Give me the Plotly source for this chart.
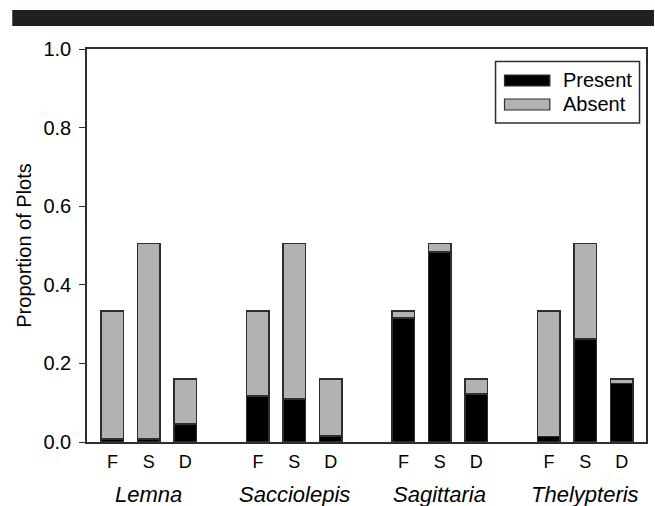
import plotly.graph_objects as go

# Species groups and the three stages within each group
species = ["Lemna", "Sacciolepis", "Sagittaria", "Thelypteris"]
stages = ["F", "S", "D"]

# Proportion of plots where the species was present / absent, per species & stage
present = [0.008, 0.008, 0.046,
           0.117, 0.110, 0.015,
           0.315, 0.483, 0.122,
           0.014, 0.262, 0.149]
absent = [0.325, 0.497, 0.114,
          0.216, 0.395, 0.145,
          0.018, 0.022, 0.038,
          0.319, 0.243, 0.011]

y_ticks = [0.0, 0.2, 0.4, 0.6, 0.8, 1.0]

# Bar positions: each species block takes 3 slots plus one empty slot
positions = [g * (len(stages) + 1) + s for g in range(len(species)) for s in range(len(stages))]
tick_text = [stages[s] for g in range(len(species)) for s in range(len(stages))]
group_centers = [g * (len(stages) + 1) + (len(stages) - 1) / 2 for g in range(len(species))]

W, H = 655, 506
ML, MR, MT, MB = 87, 7, 49, 64
PW, PH = W - ML - MR, H - MT - MB


def px_x(px):
    return (px - ML) / PW


def px_y(py):
    return (H - MB - py) / PH


FONT = "Liberation Sans, Arial, Helvetica, sans-serif"
EDGE = "#2e2e2e"
GRAY = "#b2b2b2"

fig = go.Figure()
fig.add_trace(go.Bar(x=positions, y=present, name="Present", width=0.62,
                     marker=dict(color="#000000", line=dict(color=EDGE, width=1.5)),
                     showlegend=False))
fig.add_trace(go.Bar(x=positions, y=absent, name="Absent", width=0.62,
                     marker=dict(color=GRAY, line=dict(color=EDGE, width=1.5)),
                     showlegend=False))

fig.update_layout(
    width=W, height=H,
    margin=dict(l=ML, r=MR, t=MT, b=MB),
    barmode="stack",
    paper_bgcolor="white", plot_bgcolor="white",
    font=dict(family=FONT, color="black"),
    xaxis=dict(range=[-0.7, 14.67], tickmode="array", tickvals=positions, ticktext=tick_text,
               ticks="", showgrid=False, zeroline=False, showline=True, mirror=True,
               linecolor=EDGE, linewidth=1.5, tickfont=dict(size=18),
               ticklabelstandoff=3),
    yaxis=dict(range=[0, 1], tickmode="array", tickvals=y_ticks,
               ticktext=[f"{v:.1f}" for v in y_ticks],
               ticks="outside", ticklen=6, tickwidth=1.2, tickcolor=EDGE,
               showgrid=False, zeroline=False, showline=True, mirror=True,
               linecolor=EDGE, linewidth=1.5, tickfont=dict(size=20),
               ticklabelstandoff=4),
)

shapes = []
annotations = []

# Dark header band
shapes.append(dict(type="rect", xref="paper", yref="paper",
                   x0=px_x(12), x1=px_x(656), y0=px_y(26), y1=px_y(10),
                   fillcolor="#231f20", line=dict(width=0), layer="above"))

# Legend box with wide swatches
shapes.append(dict(type="rect", xref="paper", yref="paper",
                   x0=px_x(497), x1=px_x(641.5), y0=px_y(123), y1=px_y(61.5),
                   fillcolor="white", line=dict(color=EDGE, width=1.5), layer="above"))
legend_rows = [("Present", "#000000", 80.5), ("Absent", GRAY, 104.5)]
for label, color, cy in legend_rows:
    shapes.append(dict(type="rect", xref="paper", yref="paper",
                       x0=px_x(506), x1=px_x(551.5), y0=px_y(cy + 5.5), y1=px_y(cy - 5.5),
                       fillcolor=color, line=dict(color=EDGE, width=1.2), layer="above"))
    annotations.append(dict(text=label, xref="paper", yref="paper", x=px_x(563), y=px_y(cy),
                            xanchor="left", yanchor="middle", showarrow=False,
                            font=dict(size=20, family=FONT)))

# Species names under each block
for name, cx in zip(species, group_centers):
    annotations.append(dict(text=f"<i>{name}</i>", xref="x", yref="paper", x=cx, y=px_y(494),
                            xanchor="center", yanchor="middle", showarrow=False,
                            font=dict(size=22, family=FONT)))

# Y axis title
annotations.append(dict(text="Proportion of Plots", xref="paper", yref="paper",
                        x=px_x(23), y=0.5, textangle=-90, xanchor="center", yanchor="middle",
                        showarrow=False, font=dict(size=20, family=FONT)))

fig.update_layout(shapes=shapes, annotations=annotations)
fig.write_html("out.html")
